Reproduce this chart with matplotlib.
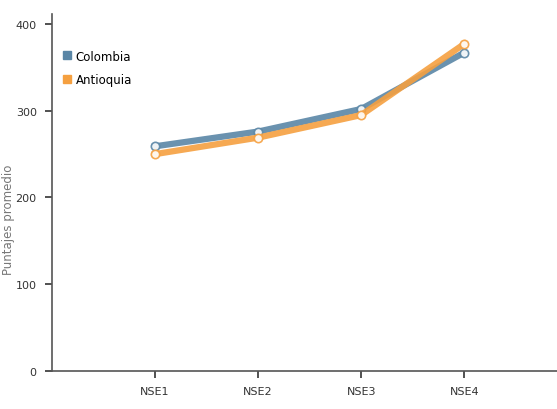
import matplotlib
matplotlib.use("Agg")
import matplotlib.pyplot as plt
from matplotlib.lines import Line2D

plt.rcParams['font.family'] = ['DejaVu Sans']

#Data
categories = ["NSE1", "NSE2", "NSE3", "NSE4"]
colombia = [259, 276, 302, 367]
antioquia = [250, 269, 295, 377]

blue = "#5a86a6"
orange = "#f5a040"

fig = plt.figure(figsize=(5.57, 4.10), dpi=100)
ax = fig.add_axes([52/557, 38/410, 1 - 52/557, (372-15)/410])

x = [1, 2, 3, 4]
ax.plot(x, colombia, color=blue, lw=4.5, alpha=0.9, marker="o", ms=6, mfc="white", mec=blue, mew=1.2, zorder=3)
ax.plot(x, antioquia, color=orange, lw=4.5, alpha=0.9, marker="o", ms=6, mfc="white", mec=orange, mew=1.2, zorder=4)

ax.set_xlim(0, 4.9)
ax.set_ylim(0, 411.5)
ax.set_xticks(x)
ax.set_xticklabels(categories)
ax.set_yticks([0, 100, 200, 300, 400])

for s in ["top", "right"]:
    ax.spines[s].set_visible(False)
for s in ["left", "bottom"]:
    ax.spines[s].set_color("#555555")
    ax.spines[s].set_linewidth(1.2)

ax.tick_params(axis="both", colors="#333333", labelsize=8, length=5, width=1.2, pad=6)

#Y label placed in figure coords so it is not clipped
fig.text(9/557, (410-220)/410, "Puntajes promedio", rotation=90, color="#777777",
         fontsize=8.5, ha="center", va="center")

handles = [Line2D([], [], ls="", marker="s", ms=6, color=blue),
           Line2D([], [], ls="", marker="s", ms=6, color=orange)]
ax.legend(handles, ["Colombia", "Antioquia"], loc="upper left", bbox_to_anchor=(0.0, 0.93),
          frameon=False, fontsize=8.5, handlelength=0.8, handletextpad=0.3, labelspacing=0.9)

fig.savefig("out.png", dpi=100)
